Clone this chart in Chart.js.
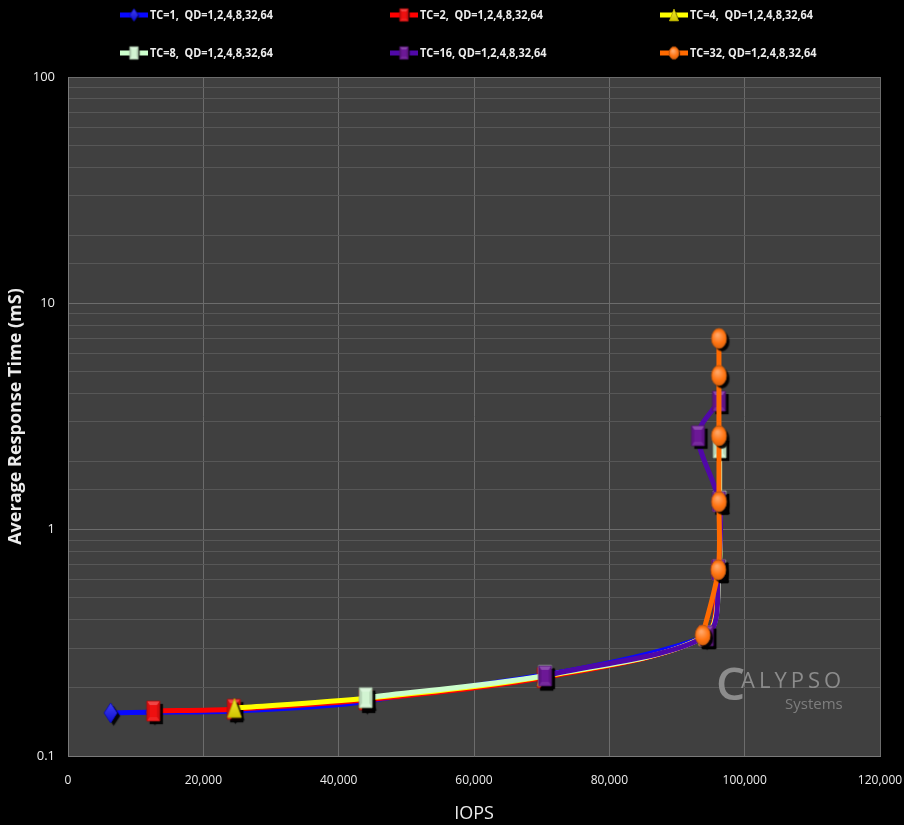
<!DOCTYPE html>
<html>
<head>
<meta charset="utf-8">
<script src="https://cdn.jsdelivr.net/npm/chart.js@4.4.1/dist/chart.umd.min.js"></script>
<style>
  html, body { margin: 0; padding: 0; background: #000; }
  #wrap { width: 904px; height: 825px; }
</style>
</head>
<body>
<div id="wrap"><canvas id="chart"></canvas></div>
<script>
// Series labels (legend text)
var seriesLabels = [
  'TC=1,  QD=1,2,4,8,32,64',
  'TC=2,  QD=1,2,4,8,32,64',
  'TC=4,  QD=1,2,4,8,32,64',
  'TC=8,  QD=1,2,4,8,32,64',
  'TC=16, QD=1,2,4,8,32,64',
  'TC=32, QD=1,2,4,8,32,64'
];

// IOPS / average response time (ms), one point per QD
var tc1Iops = [6300, 12400, 24300, 43800, 94000, 96000];
var tc1Resp = [0.155, 0.156, 0.158, 0.174, 0.335, 0.66];
var tc2Iops = [12600, 24500, 44000, 70300, 94200, 96100];
var tc2Resp = [0.158, 0.161, 0.177, 0.222, 0.34, 0.665];
var tc4Iops = [24600, 44100, 70400, 94200, 96200, 96300];
var tc4Resp = [0.163, 0.18, 0.225, 0.34, 0.665, 1.33];
var tc8Iops = [44000, 70500, 94300, 96200, 96300, 96300];
var tc8Resp = [0.181, 0.227, 0.34, 0.665, 1.34, 2.3];
var tc16Iops = [70500, 94400, 96100, 96200, 93100, 96200];
var tc16Resp = [0.226, 0.34, 0.665, 1.33, 2.6, 3.7];
var tc32Iops = [93800, 96100, 96200, 96200, 96200, 96200];
var tc32Resp = [0.342, 0.665, 1.33, 2.6, 4.8, 7.0];

var xTickStep = 20000;
var xMax = 120000;
var yMin = 0.1;
var yMax = 100;

// Styles
var lineColors = ['#0808ff', '#ff0000', '#ffff00', '#ccffcc', '#5008a8', '#ff6a00'];
var markerColors = ['#1010f0', '#ee1010', '#f2e600', '#d2f4d2', '#6c1896', '#ff7412'];
var markerShapes = ['diamond', 'rect', 'triangle', 'rect', 'rect', 'ellipse'];

var FONT = "'Open Sans', sans-serif";
var TEXT = '#ececec';

function shade(hex, amt) {
  var n = parseInt(hex.slice(1), 16);
  var r = (n >> 16) & 255, g = (n >> 8) & 255, b = n & 255;
  function f(c) {
    return Math.max(0, Math.min(255, Math.round(amt >= 0 ? c + (255 - c) * amt : c * (1 + amt))));
  }
  return 'rgb(' + f(r) + ',' + f(g) + ',' + f(b) + ')';
}

function shapePath(g, shape, cx, cy, w, h) {
  g.beginPath();
  if (shape === 'diamond') {
    g.moveTo(cx, cy - h / 2); g.lineTo(cx + w / 2, cy);
    g.lineTo(cx, cy + h / 2); g.lineTo(cx - w / 2, cy);
  } else if (shape === 'triangle') {
    g.moveTo(cx, cy - h / 2); g.lineTo(cx + w / 2, cy + h / 2); g.lineTo(cx - w / 2, cy + h / 2);
  } else if (shape === 'ellipse') {
    g.ellipse(cx, cy, w / 2, h / 2, 0, 0, Math.PI * 2);
  } else {
    g.rect(cx - w / 2, cy - h / 2, w, h);
  }
  g.closePath();
}

// Builds a bevelled marker image with a drop shadow
function makeMarker(shape, color, w, h, shadow) {
  var pad = shadow + 2;
  var c = document.createElement('canvas');
  c.width = Math.ceil(w + pad * 2);
  c.height = Math.ceil(h + pad * 2);
  var g = c.getContext('2d');
  var cx = c.width / 2, cy = c.height / 2;

  g.save();
  g.shadowColor = 'rgba(0,0,0,0.95)';
  g.shadowOffsetX = shadow;
  g.shadowOffsetY = shadow;
  g.shadowBlur = 1;
  shapePath(g, shape, cx, cy, w, h);
  g.fillStyle = color;
  g.fill();
  g.restore();

  if (shape === 'rect') {
    var l = cx - w / 2, r = cx + w / 2, t = cy - h / 2, b = cy + h / 2;
    g.fillStyle = shade(color, 0.22);
    g.beginPath(); g.moveTo(l, t); g.lineTo(r, t); g.lineTo(cx, cy); g.closePath(); g.fill();
    g.fillStyle = shade(color, 0.08);
    g.beginPath(); g.moveTo(l, b); g.lineTo(r, b); g.lineTo(cx, cy); g.closePath(); g.fill();
    g.fillStyle = shade(color, -0.12);
    g.beginPath(); g.moveTo(l, t); g.lineTo(l, b); g.lineTo(cx, cy); g.closePath(); g.fill();
    g.beginPath(); g.moveTo(r, t); g.lineTo(r, b); g.lineTo(cx, cy); g.closePath(); g.fill();
    g.fillStyle = color;
    g.fillRect(l + w * 0.22, t + h * 0.2, w * 0.56, h * 0.6);
  } else if (shape === 'ellipse') {
    var rg = g.createRadialGradient(cx - w * 0.1, cy - h * 0.18, 1, cx, cy, h / 2);
    rg.addColorStop(0, shade(color, 0.35));
    rg.addColorStop(0.6, color);
    rg.addColorStop(1, shade(color, -0.15));
    shapePath(g, shape, cx, cy, w, h);
    g.fillStyle = rg;
    g.fill();
  } else {
    var lg = g.createLinearGradient(cx, cy - h / 2, cx, cy + h / 2);
    lg.addColorStop(0, shade(color, 0.2));
    lg.addColorStop(1, shade(color, -0.15));
    shapePath(g, shape, cx, cy, w, h);
    g.fillStyle = lg;
    g.fill();
  }
  shapePath(g, shape, cx, cy, w, h);
  g.strokeStyle = shade(color, -0.3);
  g.lineWidth = 0.8;
  g.stroke();
  return c;
}

var markerSizes = { diamond: [13, 20], rect: [13, 20], triangle: [14, 19], ellipse: [15, 20] };
var plotMarkers = markerShapes.map(function (s, i) {
  return makeMarker(s, markerColors[i], markerSizes[s][0], markerSizes[s][1], 3);
});
var legendMarkers = markerShapes.map(function (s, i) {
  return makeMarker(s, markerColors[i], markerSizes[s][0] * 0.65, markerSizes[s][1] * 0.62, 1);
});

var iopsSeries = [tc1Iops, tc2Iops, tc4Iops, tc8Iops, tc16Iops, tc32Iops];
var respSeries = [tc1Resp, tc2Resp, tc4Resp, tc8Resp, tc16Resp, tc32Resp];

var datasets = seriesLabels.map(function (label, i) {
  return {
    label: label,
    data: iopsSeries[i].map(function (x, j) { return { x: x, y: respSeries[i][j] }; }),
    showLine: true,
    borderColor: lineColors[i],
    backgroundColor: lineColors[i],
    borderWidth: 5,
    tension: 0.3,
    pointStyle: plotMarkers[i],
    pointRadius: 8,
    pointHoverRadius: 8,
    order: seriesLabels.length - 1 - i
  };
});

function isDecade(v) {
  var l = Math.log10(v);
  return Math.abs(l - Math.round(l)) < 1e-6;
}

var backgroundPlugin = {
  id: 'bg',
  beforeDraw: function (chart) {
    var ctx = chart.ctx, a = chart.chartArea;
    ctx.save();
    ctx.fillStyle = '#000';
    ctx.fillRect(0, 0, chart.width, chart.height);
    ctx.fillStyle = '#404040';
    ctx.fillRect(a.left, a.top, a.right - a.left, a.bottom - a.top);
    ctx.restore();
  },
  beforeDatasetsDraw: function (chart) {
    // Calypso Systems watermark
    var ctx = chart.ctx, a = chart.chartArea;
    ctx.save();
    ctx.fillStyle = '#8c8c8c';
    ctx.textBaseline = 'alphabetic';
    ctx.font = "600 46px 'Open Sans', sans-serif";
    ctx.fillText('C', a.right - 164, a.bottom - 56);
    ctx.font = "22px 'Open Sans', sans-serif";
    ctx.letterSpacing = '4px';
    ctx.fillText('ALYPSO', a.right - 139, a.bottom - 68);
    ctx.letterSpacing = '0px';
    ctx.fillStyle = '#7e7e7e';
    ctx.font = "15px 'Open Sans', sans-serif";
    ctx.fillText('Systems', a.right - 95, a.bottom - 47);
    ctx.restore();
  }
};

var legendPlugin = {
  id: 'gridLegend',
  afterDraw: function (chart) {
    var ctx = chart.ctx;
    var colX = [120, 390, 660];
    var rowY = [15, 53];
    ctx.save();
    chart.data.datasets.forEach(function (ds, i) {
      var x = colX[i % 3], y = rowY[Math.floor(i / 3)];
      ctx.strokeStyle = ds.borderColor;
      ctx.lineWidth = 5;
      ctx.beginPath();
      ctx.moveTo(x, y);
      ctx.lineTo(x + 28, y);
      ctx.stroke();
      var m = legendMarkers[i];
      ctx.drawImage(m, x + 14 - m.width / 2, y - m.height / 2);
      ctx.save();
      ctx.translate(x + 30, y);
      ctx.scale(0.84, 1);
      ctx.fillStyle = TEXT;
      ctx.font = 'bold 13px ' + FONT;
      ctx.textBaseline = 'middle';
      ctx.fillText(ds.label, 0, 0);
      ctx.restore();
    });
    ctx.restore();
  }
};

new Chart(document.getElementById('chart'), {
  type: 'scatter',
  data: { datasets: datasets },
  plugins: [backgroundPlugin, legendPlugin],
  options: {
    responsive: true,
    maintainAspectRatio: false,
    animation: false,
    layout: { padding: { top: 77, right: 24, left: 0, bottom: 0 } },
    plugins: {
      legend: { display: false },
      tooltip: { enabled: false }
    },
    scales: {
      x: {
        type: 'linear',
        min: 0,
        max: xMax,
        afterFit: function (scale) {
          scale.height = 69;
          scale.paddingLeft = 0;
          scale.paddingRight = 0;
        },
        ticks: {
          stepSize: xTickStep,
          color: TEXT,
          padding: 17,
          font: { family: FONT, size: 12 },
          callback: function (v) { return v.toLocaleString('en-US'); }
        },
        grid: { color: '#6c6c6c', lineWidth: 1, drawTicks: false },
        border: { color: '#7a7a7a' },
        title: {
          display: true,
          text: 'IOPS',
          color: TEXT,
          font: { family: FONT, size: 18 },
          padding: { top: 0, bottom: 0 }
        }
      },
      y: {
        type: 'logarithmic',
        min: yMin,
        max: yMax,
        afterFit: function (scale) { scale.width = 68; },
        ticks: {
          autoSkip: false,
          color: TEXT,
          padding: 13,
          font: { family: FONT, size: 13 },
          callback: function (v) {
            if (!isDecade(v)) return '';
            return v >= 1 ? String(Math.round(v)) : v.toFixed(1);
          }
        },
        grid: {
          drawTicks: false,
          color: function (ctx) {
            return ctx.tick && isDecade(ctx.tick.value) ? '#6c6c6c' : '#575757';
          }
        },
        border: { color: '#7a7a7a' },
        title: {
          display: true,
          text: 'Average Response Time (mS)',
          color: TEXT,
          font: { family: FONT, size: 18, weight: 'bold' },
          padding: { top: 5, bottom: 0 }
        }
      }
    }
  }
});
</script>
</body>
</html>
